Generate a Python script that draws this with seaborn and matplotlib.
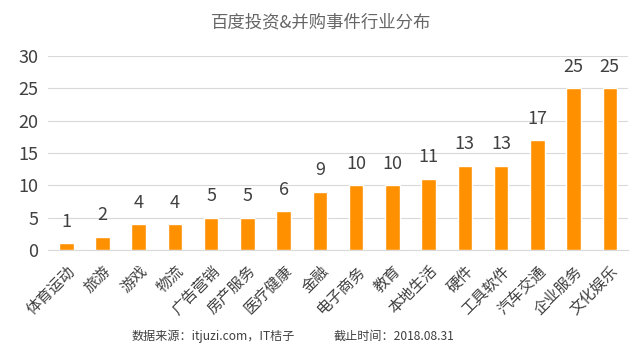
import numpy as np
import pandas as pd
import matplotlib
matplotlib.use('Agg')
import matplotlib.pyplot as plt
import seaborn as sns

industries = ['体育运动', '旅游', '游戏', '物流', '广告营销', '房产服务', '医疗健康', '金融',
              '电子商务', '教育', '本地生活', '硬件', '工具软件', '汽车交通', '企业服务', '文化娱乐']
counts = [1, 2, 4, 4, 5, 5, 6, 9, 10, 10, 11, 13, 13, 17, 25, 25]
y_ticks = [0, 5, 10, 15, 20, 25, 30]

df = pd.DataFrame({'industry': industries, 'count': counts})

sns.set_style('white')
plt.rcParams['font.family'] = ['Noto Sans CJK SC', 'DejaVu Sans']

fig = plt.figure(figsize=(6.42, 3.52), dpi=100)
ax = fig.add_axes([0.075, 0.29, 0.903, 0.551])

sns.barplot(data=df, x='industry', y='count', color='#FF9000', width=0.4,
            saturation=1, ax=ax, zorder=3)

for i, v in enumerate(counts):
    ax.annotate(str(v), (i, v), xytext=(0, 9), textcoords='offset points',
                ha='center', va='bottom', fontsize=13, color='#404040')

ax.set_ylim(0, 30)
ax.set_yticks(y_ticks)
ax.set_xlim(-0.5, len(industries) - 0.5)
ax.yaxis.grid(True, color='#D9D9D9', linewidth=0.8, zorder=0)
ax.tick_params(axis='y', labelsize=13, labelcolor='#404040', length=0, pad=7)
ax.tick_params(axis='x', length=0, pad=9)
ax.set_xticks(range(len(industries)))
ax.set_xticklabels(industries, rotation=45, ha='right', rotation_mode='anchor',
                   fontsize=11, color='#404040')
ax.set_xlabel('')
ax.set_ylabel('')
for s in ['top', 'right', 'left']:
    ax.spines[s].set_visible(False)
ax.spines['bottom'].set_color('#D9D9D9')

fig.text(0.5, 0.937, '百度投资&并购事件行业分布', ha='center', va='center', fontsize=12.5, color='#666666')
fig.text(0.205, 0.045, '数据来源：itjuzi.com，IT桔子', ha='left', va='center', fontsize=8.7, color='#404040')
fig.text(0.519, 0.045, '截止时间：2018.08.31', ha='left', va='center', fontsize=8.7, color='#404040')

fig.savefig('out.png', dpi=100)
